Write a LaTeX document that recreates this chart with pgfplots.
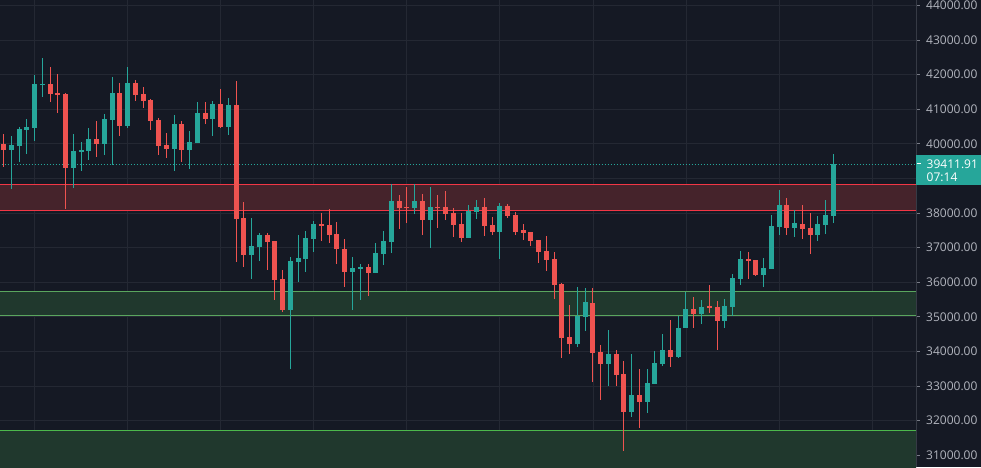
\documentclass[border=0pt]{standalone}
\usepackage{fontspec}
\setmainfont{Open Sans}
\usepackage{pgfplots}
\usepackage{pgfplotstable}
\pgfplotsset{compat=1.18}
\definecolor{bgcol}{HTML}{151924}
\definecolor{gridcol}{HTML}{242833}
\definecolor{axiscol}{HTML}{363A45}
\definecolor{upcol}{HTML}{26A69A}
\definecolor{dncol}{HTML}{EF5350}
\definecolor{redline}{HTML}{F23645}
\definecolor{redfill}{HTML}{45232B}
\definecolor{grnline}{HTML}{5AA65E}
\definecolor{grnline2}{HTML}{4CB84C}
\definecolor{grnfill}{HTML}{20382D}
\definecolor{labelcol}{HTML}{B2B5BE}
\definecolor{tickcol}{HTML}{787B86}

\pgfplotstableread{
i o h l c
1 39821 40226 38704 39966
2 39937 40476 39474 40428
3 40399 40717 39706 40486
4 40457 41988 40081 41728
5 41709 42480 41362 41738
9 39301 40284 38733 39792
10 39763 40052 39224 39821
11 39792 40457 39532 40139
13 39995 40861 39677 40717
14 40688 41931 39388 41468
16 40515 42220 40457 41757
22 39850 40833 39214 40572
24 39821 40370 39272 40052
25 40023 41208 40023 40890
27 40717 41237 40226 41150
29 40486 41324 40255 41122
32 36787 37856 36093 37047
33 37018 37422 36613 37365
37 35197 36729 33492 36613
38 36584 37365 36006 36700
39 36671 37480 36295 37278
40 37249 37769 36873 37682
45 36295 36729 35197 36411
46 36382 36527 35486 36440
48 36266 37133 36266 36844
49 36816 37480 36498 37191
50 37162 38838 36844 38347
53 38145 38838 37971 38347
55 37798 38752 36989 38174
60 37278 38232 37278 38058
61 38029 38376 37827 38174
64 37451 38289 36671 38203
74 34215 35862 34128 35024
75 34995 35833 34590 35428
78 33637 34619 33001 33926
81 32250 33926 32105 32741
83 32538 33492 32220 33087
84 33059 34012 33059 33666
85 33637 34504 33579 34041
87 33839 35024 33810 34677
88 34677 35717 34677 35226
90 35081 35486 34792 35284
93 34879 35515 34677 35313
94 35284 36237 35024 36122
95 36093 36902 35920 36671
98 36209 36700 35862 36411
99 36382 37943 36382 37625
100 37596 38665 37365 38232
102 37567 38087 37307 37711
105 37365 37914 37191 37682
106 37654 38376 37394 37943
107 37914 39705 37711 39411.91
}\up

\pgfplotstableread{
i o h l c
0 39995 40284 39339 39821
6 41728 42220 41208 41439
7 41468 42017 40900 41420
8 41439 41468 38116 39301
12 40139 40659 39619 39995
15 41468 41757 40226 40515
17 41757 41844 41237 41410
18 41439 41642 41035 41237
19 41266 41295 40399 40659
20 40688 40746 39677 39937
21 39966 40313 39590 39850
23 40572 40659 39474 39821
26 40890 41208 40572 40717
28 41150 41584 40457 40486
30 41122 41815 36584 37827
31 37856 38318 36440 36787
34 37365 37422 36353 37162
35 37191 37191 35486 36064
36 36093 36353 35139 35197
41 37682 38000 37191 37625
42 37654 38116 37133 37365
43 37393 37740 36527 36960
44 36960 37249 35862 36295
47 36440 36527 35602 36266
51 38347 38521 37538 38145
52 38174 38752 37711 38154
54 38347 38549 37365 37798
56 38174 38521 37567 38154
57 38174 38636 37798 37971
58 38000 38145 37307 37654
59 37682 38000 37162 37278
62 38174 38434 37336 37625
63 37654 37885 37365 37451
65 38203 38260 37856 37914
66 37943 38029 37365 37451
67 37509 37682 37220 37422
68 37451 37451 37047 37191
69 37220 37220 36555 36873
70 36902 37336 36324 36642
71 36671 36873 35515 35920
72 35948 35990 33810 34388
73 34417 35342 33926 34215
76 35399 35833 33116 33954
77 33983 34186 32596 33637
79 33926 34041 33001 33319
80 33348 33723 31122 32250
82 32741 33492 31787 32538
86 34041 34908 33550 33839
89 35226 35573 34677 35081
91 35313 35920 35110 35255
92 35284 35457 34041 34879
96 36671 36873 36093 36623
97 36642 36642 36180 36209
101 38232 38434 37365 37567
103 37682 38232 37249 37538
104 37567 38000 36816 37365
}\down

\begin{document}
\begin{tikzpicture}
\useasboundingbox (0,0) rectangle (981pt,467pt);
\fill[bgcol] (0,0) rectangle (981pt,467pt);
\begin{axis}[
  at={(0,0)}, anchor=south west,
  scale only axis, width=916pt, height=467pt,
  xmin=-0.45, xmax=117.66, ymin=30659, ymax=44156,
  axis line style={draw=none},
  xtick={4,16,28,40,52,64,76,88,100,112}, xticklabels={}, major x tick style={draw=none},
  ytick={31000,32000,33000,34000,35000,36000,37000,38000,40000,41000,42000,43000,44000},
  extra y ticks={39000}, extra y tick labels={},
  scaled y ticks=false,
  ytick pos=right, yticklabel pos=right,
  tick align=outside, major tick length=4pt,
  major y tick style={draw=tickcol, line width=0.8pt},
  xmajorgrids, ymajorgrids,
  grid style={draw=gridcol, line width=0.8pt},
  yticklabel style={anchor=west, inner sep=0pt, xshift=6pt, text=labelcol, font=\fontsize{12}{14}\selectfont},
  /pgf/number format/.cd, fixed, fixed zerofill, precision=2, 1000 sep={}, assume math mode=true,
]
% zones
\addplot[fill=redfill, draw=none] coordinates {(-1,38078) (119,38078) (119,38838) (-1,38838)} -- cycle;
\addplot[redline, line width=1pt] coordinates {(-1,38078) (119,38078)};
\addplot[redline, line width=1pt] coordinates {(-1,38838) (119,38838)};
\addplot[fill=grnfill, draw=none] coordinates {(-1,35043) (119,35043) (119,35737) (-1,35737)} -- cycle;
\addplot[grnline, line width=1pt] coordinates {(-1,35043) (119,35043)};
\addplot[grnline, line width=1pt] coordinates {(-1,35737) (119,35737)};
\addplot[fill=grnfill, draw=none] coordinates {(-1,30000) (119,30000) (119,31728) (-1,31728)} -- cycle;
\addplot[grnline2, line width=1pt] coordinates {(-1,31728) (119,31728)};
% last price line
\addplot[upcol, line width=1pt, dash pattern=on 1pt off 2pt] coordinates {(-1,39411.91) (119,39411.91)};
% wicks
\addplot[draw=none, mark=none, error bars/.cd, y dir=plus, y explicit, error mark=none,
  error bar style={draw=upcol, line width=1pt}]
  table[x=i, y=l, y error expr=\thisrow{h}-\thisrow{l}] {\up};
\addplot[draw=none, mark=none, error bars/.cd, y dir=plus, y explicit, error mark=none,
  error bar style={draw=dncol, line width=1pt}]
  table[x=i, y=l, y error expr=\thisrow{h}-\thisrow{l}] {\down};
% bodies
\addplot[draw=none, mark=none, error bars/.cd, y dir=plus, y explicit, error mark=none,
  error bar style={draw=upcol, line width=5pt}]
  table[x=i, y=o, y error expr={max(\thisrow{c}-\thisrow{o},28)}] {\up};
\addplot[draw=none, mark=none, error bars/.cd, y dir=plus, y explicit, error mark=none,
  error bar style={draw=dncol, line width=5pt}]
  table[x=i, y=c, y error expr={max(\thisrow{o}-\thisrow{c},28)}] {\down};
\end{axis}
\draw[axiscol, line width=0.8pt] (916.5pt,0) -- (916.5pt,467pt);
\fill[upcol] (916pt,281.7pt) rectangle (981pt,311.7pt);
\node[anchor=west, inner sep=0pt, text=white, font=\fontsize{12}{14}\selectfont] at (926.5pt,303.2pt) {39411.91};
\node[anchor=west, inner sep=0pt, text=white, font=\fontsize{12}{14}\selectfont] at (926.5pt,289.6pt) {07:14};
\draw[white, line width=0.8pt] (916.5pt,303.5pt) -- (920.5pt,303.5pt);
\end{tikzpicture}
\end{document}
